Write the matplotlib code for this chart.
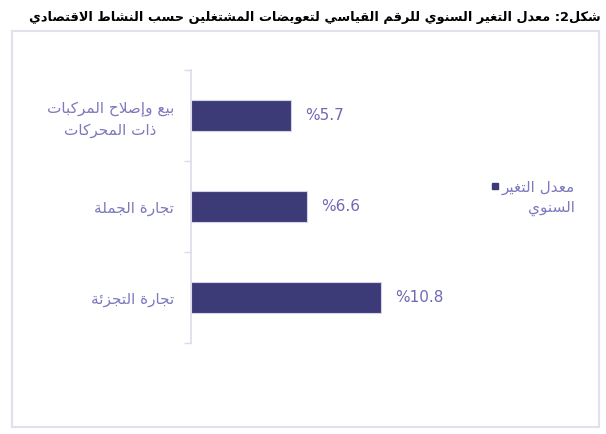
import re
import matplotlib
matplotlib.use('Agg')
import matplotlib.pyplot as plt
from matplotlib.patches import Rectangle
from matplotlib.lines import Line2D

# data
categories = ['بيع وإصلاح المركبات\nذات المحركات', 'تجارة الجملة', 'تجارة التجزئة']
values = [5.7, 6.6, 10.8]
series_name = 'معدل التغير\nالسنوي'
title = 'شكل2: معدل التغير السنوي للرقم القياسي لتعويضات المشتغلين حسب النشاط الاقتصادي'

# --- tiny arabic shaping (matplotlib 3.10 has no text shaping) ---
DUAL = {'ب': 0xFE8F, 'ت': 0xFE95, 'ث': 0xFE99, 'ج': 0xFE9D, 'ح': 0xFEA1, 'خ': 0xFEA5,
        'س': 0xFEB1, 'ش': 0xFEB5, 'ص': 0xFEB9, 'ض': 0xFEBD, 'ط': 0xFEC1, 'ظ': 0xFEC5,
        'ع': 0xFEC9, 'غ': 0xFECD, 'ف': 0xFED1, 'ق': 0xFED5, 'ك': 0xFED9, 'ل': 0xFEDD,
        'م': 0xFEE1, 'ن': 0xFEE5, 'ه': 0xFEE9, 'ي': 0xFEF1, 'ئ': 0xFE89}
RIGHT = {'ا': 0xFE8D, 'أ': 0xFE83, 'إ': 0xFE87, 'آ': 0xFE81, 'ة': 0xFE93, 'د': 0xFEA9,
         'ذ': 0xFEAB, 'ر': 0xFEAD, 'ز': 0xFEAF, 'و': 0xFEED, 'ى': 0xFEEF}
LAM_ALEF = {'ا': 0xFEFB, 'إ': 0xFEF9, 'أ': 0xFEF7, 'آ': 0xFEF5}


def shape(s):
    toks = []
    i = 0
    while i < len(s):
        if s[i] == 'ل' and i + 1 < len(s) and s[i + 1] in LAM_ALEF:
            toks.append(('LA', s[i + 1]))
            i += 2
        else:
            toks.append(s[i])
            i += 1

    def is_ar(t):
        return isinstance(t, tuple) or t in DUAL or t in RIGHT

    out = []
    for k, t in enumerate(toks):
        prev = k > 0 and not isinstance(toks[k - 1], tuple) and toks[k - 1] in DUAL
        nxt = k + 1 < len(toks) and is_ar(toks[k + 1])
        if isinstance(t, tuple):
            out.append(chr(LAM_ALEF[t[1]] + (1 if prev else 0)))
        elif t in DUAL:
            if prev and nxt:
                off = 3
            elif prev:
                off = 1
            elif nxt:
                off = 2
            else:
                off = 0
            out.append(chr(DUAL[t] + off))
        elif t in RIGHT:
            out.append(chr(RIGHT[t] + (1 if prev else 0)))
        else:
            out.append(t)
    return ''.join(out)


def rtl(s):
    lines = []
    for line in s.split('\n'):
        segs = re.split(r'([0-9.]+)', shape(line))
        vis = [seg if re.fullmatch(r'[0-9.]+', seg) else seg[::-1] for seg in segs]
        lines.append(''.join(vis[::-1]))
    return '\n'.join(lines)


W, H = 606, 434
fig = plt.figure(figsize=(W / 100, H / 100), dpi=100)

bar_color = '#3d3a78'
text_color = '#7d79bd'
line_color = '#dcdbee'

# outer frame
fig.add_artist(Rectangle((12 / W, 1 - 427 / H), 587 / W, 396 / H, transform=fig.transFigure,
                         fill=False, edgecolor='#e0e0ee', lw=1.5))

t = fig.text(601 / W, 1 - 17 / H, rtl(title), ha='right', va='center', fontsize=11.5,
             fontweight='bold', color='black', family=['DejaVu Sans'])
# shrink title to the reference width (about 574 px)
r = fig.canvas.get_renderer()
tw = t.get_window_extent(r).width
t.set_fontsize(11.5 * 574 / tw)

ax = fig.add_axes([191 / W, 1 - 343 / H, 279 / W, 273 / H])
y = list(range(len(categories)))
ax.barh(y, values, height=0.34, color=bar_color, edgecolor='#d4d2ec', lw=0.8)
ax.set_xlim(0, 279 / 17.6)
ax.set_ylim(len(categories) - 0.5, -0.5)

for i, v in enumerate(values):
    ax.annotate('%' + f'{v:.1f}', (v, i), xytext=(10, 0), textcoords='offset points',
                ha='left', va='center', fontsize=11, color='#6f69b3')

ax.set_yticks(y)
ax.set_yticklabels([rtl(c) for c in categories], fontsize=11, color=text_color,
                   multialignment='center', linespacing=1.45)
ax.tick_params(axis='y', which='major', length=0, pad=12)
ax.set_yticks([k - 0.5 for k in range(len(categories) + 1)], minor=True)
ax.tick_params(axis='y', which='minor', length=5, color=line_color, width=1)
ax.set_xticks([])
for sp in ['top', 'right', 'bottom']:
    ax.spines[sp].set_visible(False)
ax.spines['left'].set_color(line_color)
ax.spines['left'].set_linewidth(1.2)

# legend
fig.add_artist(Line2D([495 / W], [1 - 186 / H], marker='s', markersize=5, color=bar_color,
                      transform=fig.transFigure, lw=0))
fig.text(575 / W, 1 - 198 / H, rtl(series_name), ha='right', va='center', fontsize=11,
         color=text_color, multialignment='right', linespacing=1.45)

fig.savefig('out.png', dpi=100)
